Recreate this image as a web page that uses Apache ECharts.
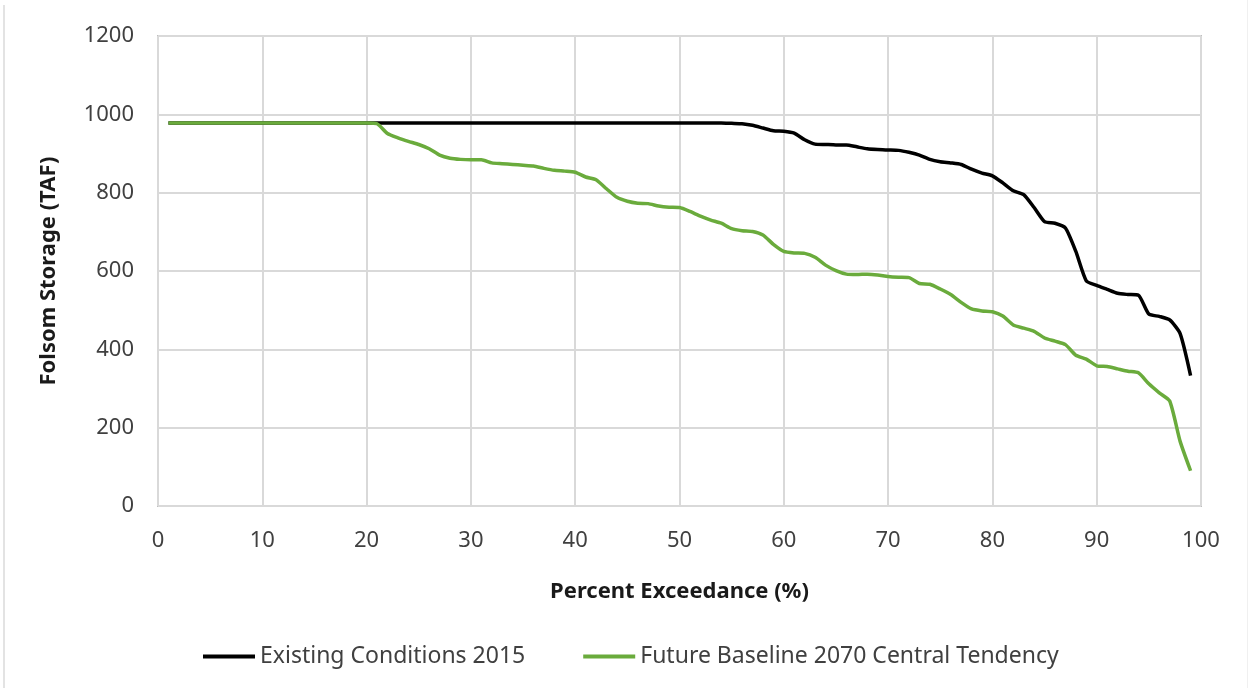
<!DOCTYPE html>
<html>
<head>
<meta charset="utf-8">
<script src="https://cdn.jsdelivr.net/npm/echarts@6/dist/echarts.min.js"></script>
<style>html,body{margin:0;padding:0;background:#fff}#c{width:1249px;height:688px}</style>
</head>
<body>
<div id="c"></div>
<script>
const percent = [];
for (let i = 1; i <= 99; i++) percent.push(i);

const existing2015 = [
  978,978,978,978,978,978,978,978,978,978,
  978,978,978,978,978,978,978,978,978,978,
  978,978,978,978,978,978,978,978,978,978,
  978,978,978,978,978,978,978,978,978,978,
  978,978,978,978,978,978,978,978,978,978,
  978,978,978,978,977,976,972,965,958,957,
  952,935,924,923,922,922,917,912,910,909,
  908,903,896,885,879,876,872,860,850,843,
  825,805,795,762,726,722,710,650,575,563,
  553,543,540,538,490,484,475,440,333
];

const future2070 = [
  978,978,978,978,978,978,978,978,978,978,
  978,978,978,978,978,978,978,978,978,978,
  976,951,940,931,923,912,896,888,885,884,
  884,876,874,872,870,868,862,857,855,852,
  840,833,810,788,778,773,772,766,763,762,
  752,740,730,722,708,703,701,692,668,650,
  646,645,635,615,601,592,591,592,590,586,
  584,583,568,566,554,540,520,503,498,496,
  485,462,454,446,429,421,412,385,375,358,
  356,350,344,340,312,289,268,165,90
];

const seriesNames = ['Existing Conditions 2015', 'Future Baseline 2070 Central Tendency'];
const xTicks = [0,10,20,30,40,50,60,70,80,90,100];
const yTicks = [0,200,400,600,800,1000,1200];

const pair = arr => percent.map((p, i) => [p, arr[i]]);

const chart = echarts.init(document.getElementById('c'));
chart.setOption({
  animation: false,
  backgroundColor: '#fff',
  graphic: [
    { type: 'line', shape: { x1: 4, y1: 5, x2: 4, y2: 688 }, style: { stroke: '#e3e3e3', lineWidth: 2 } },
    { type: 'line', shape: { x1: 1247.5, y1: 0, x2: 1247.5, y2: 688 }, style: { stroke: '#f0f0f0', lineWidth: 1 } }
  ],
  grid: {
    left: 158, right: 48, top: 36, bottom: 182,
    show: true, borderColor: '#bfbfbf', borderWidth: 2
  },
  xAxis: {
    type: 'value', min: xTicks[0], max: xTicks[xTicks.length-1], interval: 10,
    name: 'Percent Exceedance (%)', nameLocation: 'middle', nameGap: 75,
    nameTextStyle: { fontFamily: 'Noto Sans', fontSize: 22, fontWeight: 'bold', color: '#1a1a1a' },
    axisLine: { show: false }, axisTick: { show: false },
    axisLabel: { fontFamily: 'Noto Sans', fontSize: 22, color: '#404040', margin: 24 },
    splitLine: { show: true, lineStyle: { color: '#d9d9d9', width: 2 } }
  },
  yAxis: {
    type: 'value', min: yTicks[0], max: yTicks[yTicks.length-1], interval: 200,
    name: 'Folsom Storage (TAF)', nameLocation: 'middle', nameGap: 98,
    nameTextStyle: { fontFamily: 'Noto Sans', fontSize: 22, fontWeight: 'bold', color: '#1a1a1a' },
    axisLine: { show: false }, axisTick: { show: false },
    axisLabel: { fontFamily: 'Noto Sans', fontSize: 22, color: '#404040', margin: 24,
      formatter: v => String(v) },
    splitLine: { show: true, lineStyle: { color: '#d9d9d9', width: 2 } }
  },
  legend: {
    left: 198, top: 640, itemWidth: 52, itemHeight: 4, itemGap: 58, icon: 'rect',
    textStyle: { fontFamily: 'Noto Sans', fontSize: 23, color: '#404040' },
    data: seriesNames
  },
  series: [
    { name: seriesNames[0], type: 'line', data: pair(existing2015), symbol: 'none', smooth: 0.2,
      lineStyle: { color: '#000000', width: 3.5 }, itemStyle: { color: '#000000' }, z: 2 },
    { name: seriesNames[1], type: 'line', data: pair(future2070), symbol: 'none', smooth: 0.2,
      lineStyle: { color: '#6aab3c', width: 3.5 }, itemStyle: { color: '#6aab3c' }, z: 3 }
  ]
});
</script>
</body>
</html>
